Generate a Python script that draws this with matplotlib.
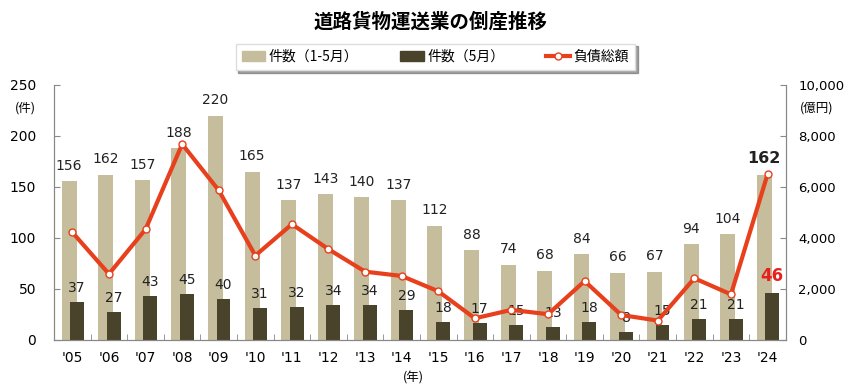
import numpy as np
import matplotlib.pyplot as plt
from matplotlib.lines import Line2D
from matplotlib.patches import Patch

plt.rcParams['font.family'] = ['DejaVu Sans', 'Noto Sans CJK JP']

years = ["'05", "'06", "'07", "'08", "'09", "'10", "'11", "'12", "'13", "'14",
         "'15", "'16", "'17", "'18", "'19", "'20", "'21", "'22", "'23", "'24"]
cases_jan_may = [156, 162, 157, 188, 220, 165, 137, 143, 140, 137,
                 112, 88, 74, 68, 84, 66, 67, 94, 104, 162]
cases_may = [37, 27, 43, 45, 40, 31, 32, 34, 34, 29,
             18, 17, 15, 13, 18, 8, 15, 21, 21, 46]
debt_total = [4220, 2590, 4340, 7680, 5870, 3310, 4540, 3560, 2680, 2510,
              1910, 850, 1180, 1010, 2310, 980, 760, 2420, 1790, 6500]

light_c = '#C5BD9B'
dark_c = '#4A432B'
line_c = '#E8401C'

x = np.arange(len(years))

fig = plt.figure(figsize=(8.45, 3.92), dpi=100)
ax = fig.add_axes([0.064, 0.1327, 0.866, 0.6505])
ax2 = ax.twinx()

ax.bar(x - 0.09, cases_jan_may, width=0.41, color=light_c, zorder=2)
ax.bar(x + 0.13, cases_may, width=0.38, color=dark_c, zorder=3)

ax2.plot(x, debt_total, color=line_c, lw=3, marker='o', ms=5,
         mfc='white', mec=line_c, mew=1, zorder=5)

# value labels
for i in range(len(x)):
    last = i == len(x) - 1
    ax.annotate(str(cases_jan_may[i]), (x[i] - 0.09, cases_jan_may[i]),
                xytext=(0, 6), textcoords='offset points', ha='center',
                va='bottom', fontsize=11.5 if last else 10,
                fontweight='bold' if last else 'normal', color='#222222')
    if last:
        # red label for '24 sits well above its bar
        ax.text(x[i] + 0.13, 63, str(cases_may[i]), ha='center', va='center',
                fontsize=12, fontweight='bold', color='#E8201C', zorder=6)
    else:
        ax.annotate(str(cases_may[i]), (x[i] + 0.13, cases_may[i]),
                    xytext=(0, 5), textcoords='offset points', ha='center',
                    va='bottom', fontsize=10, color='#222222', zorder=6)

ax.set_xlim(-0.5, len(x) - 0.5)
ax.set_ylim(0, 250)
ax2.set_ylim(0, 10000)
ax.set_yticks(range(0, 251, 50))
ax2.set_yticks(range(0, 10001, 2000))
ax2.set_yticklabels([f'{v:,}' for v in range(0, 10001, 2000)])
ax.set_xticks(x)
ax.set_xticklabels(years)
ax.set_xticks(np.arange(-0.5, len(x), 1), minor=True)

ax.tick_params(axis='x', which='major', length=0, labelsize=10, pad=8)
ax.tick_params(axis='x', which='minor', direction='in', length=4, color='#888888')
ax.tick_params(axis='y', direction='in', length=4, color='#888888', labelsize=10, pad=13)
ax2.tick_params(axis='y', direction='in', length=4, color='#888888', labelsize=9.5, pad=9)

for a in (ax, ax2):
    a.spines['top'].set_visible(False)
    for s in ('left', 'right', 'bottom'):
        a.spines[s].set_color('#888888')

ax.set_zorder(ax2.get_zorder() - 1)
ax2.patch.set_visible(False)
ax.patch.set_visible(False)

fig.text(0.030, 0.724, '(件)', fontsize=9, ha='center', va='center', family=['Noto Sans CJK JP'])
fig.text(0.967, 0.724, '(億円)', fontsize=9, ha='center', va='center', family=['Noto Sans CJK JP'])
fig.text(0.489, 0.036, '(年)', fontsize=9, ha='center', va='center', family=['Noto Sans CJK JP'])

fig.text(0.509, 0.945, '道路貨物運送業の倒産推移', fontsize=14, fontweight='bold',
         ha='center', va='center', family=['Noto Sans CJK JP'])

handles = [Patch(color=light_c), Patch(color=dark_c),
           Line2D([], [], color=line_c, lw=3, marker='o', ms=5, mfc='white', mec=line_c)]
leg = fig.legend(handles, ['件数（1-5月）', '件数（5月）', '負債総額'], ncol=3,
                 loc='center', bbox_to_anchor=(0.515, 0.855), frameon=True,
                 fancybox=False, shadow=True, edgecolor='#dddddd',
                 handlelength=1.7, handletextpad=0.25, columnspacing=3.0,
                 borderpad=0.45, borderaxespad=0,
                 prop={'family': ['Noto Sans CJK JP'], 'size': 10})

fig.savefig('out.png', dpi=100)
